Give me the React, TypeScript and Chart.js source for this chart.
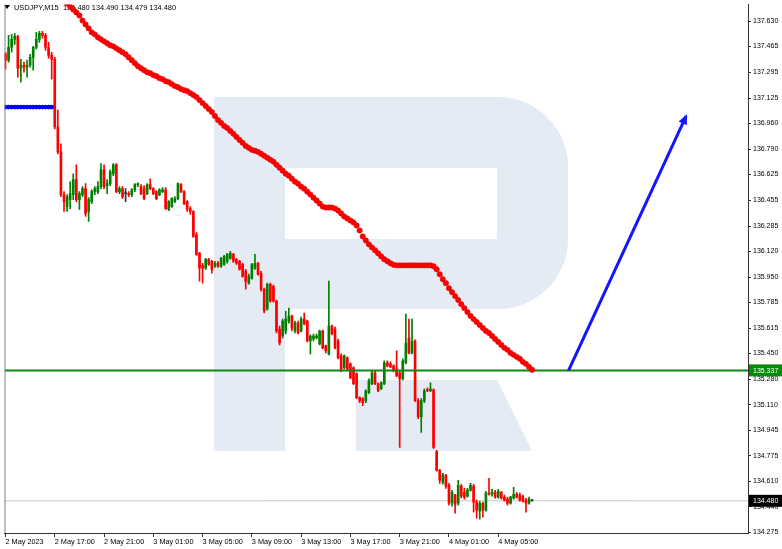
import React, { useEffect, useRef } from 'react';
import { Chart, registerables } from 'chart.js';

Chart.register(...registerables);

const symbolName = 'USDJPY';
const timeframe = 'M15';

const xTickBars = [0, 16, 32, 48, 64, 80, 96, 112, 128, 144, 160];
const xTickLabels = [
  '2 May 2023', '2 May 17:00', '2 May 21:00', '3 May 01:00', '3 May 05:00', '3 May 09:00',
  '3 May 13:00', '3 May 17:00', '3 May 21:00', '4 May 01:00', '4 May 05:00',
];
const yTickValues = [
  137.63, 137.465, 137.295, 137.125, 136.96, 136.79, 136.625, 136.455, 136.285, 136.12, 135.95,
  135.785, 135.615, 135.45, 135.28, 135.11, 134.945, 134.775, 134.61, 134.44, 134.275,
];
const xAxisMin = -0.324;
const xAxisMax = 241.1;
const yAxisMin = 134.2685;
const yAxisMax = 137.741;

const opens = [
  137.414, 137.375, 137.46, 137.512, 137.532, 137.322, 137.342, 137.329, 137.342, 137.394,
  137.46, 137.512, 137.551, 137.538, 137.46, 137.407, 137.381, 136.937, 136.773, 136.492,
  136.413, 136.459, 136.492, 136.59, 136.459, 136.492, 136.531, 136.381, 136.446, 136.511,
  136.511, 136.544, 136.655, 136.551, 136.564, 136.629, 136.688, 136.511, 136.531, 136.498,
  136.498, 136.492, 136.524, 136.557, 136.544, 136.531, 136.498, 136.557, 136.531, 136.511,
  136.492, 136.511, 136.524, 136.394, 136.413, 136.446, 136.466, 136.557, 136.511, 136.446,
  136.4, 136.381, 136.23, 136.106, 136.027, 136.008, 136.067, 136.054, 136.021, 136.041,
  136.021, 136.034, 136.054, 136.073, 136.099, 136.067, 136.054, 136.034, 135.988, 135.91,
  135.942, 136.008, 136.041, 135.975, 135.87, 135.74, 135.903, 135.89, 135.792, 135.609,
  135.563, 135.596, 135.661, 135.694, 135.596, 135.648, 135.596, 135.674, 135.661, 135.53,
  135.543, 135.55, 135.511, 135.596, 135.498, 135.445, 135.628, 135.609, 135.53, 135.432,
  135.354, 135.419, 135.38, 135.354, 135.315, 135.158, 135.151, 135.138, 135.19, 135.249,
  135.321, 135.249, 135.216, 135.249, 135.387, 135.38, 135.367, 135.347, 135.321, 135.282,
  135.387, 135.55, 135.452, 135.53, 135.138, 135.033, 135.138, 135.21, 135.203, 135.21,
  134.804, 134.68, 134.602, 134.647, 134.582, 134.464, 134.517, 134.464, 134.576, 134.536,
  134.51, 134.549, 134.576, 134.471, 134.412, 134.464, 134.419, 134.53, 134.523, 134.536,
  134.504, 134.536, 134.504, 134.491, 134.464, 134.497, 134.523, 134.517, 134.51, 134.484,
  134.464, 134.48,
];
const highs = [
  137.427, 137.538, 137.545, 137.551, 137.538, 137.381, 137.362, 137.375, 137.414, 137.466,
  137.558, 137.564, 137.564, 137.551, 137.492, 137.427, 137.394, 137.048, 136.825, 136.511,
  136.492, 136.577, 136.629, 136.688, 136.511, 136.544, 136.564, 136.472, 136.524, 136.544,
  136.577, 136.695, 136.688, 136.59, 136.655, 136.695, 136.695, 136.544, 136.544, 136.531,
  136.511, 136.531, 136.564, 136.57, 136.557, 136.551, 136.564, 136.596, 136.538, 136.518,
  136.531, 136.538, 136.538, 136.453, 136.472, 136.479, 136.57, 136.564, 136.518, 136.453,
  136.413, 136.387, 136.243, 136.112, 136.041, 136.073, 136.073, 136.06, 136.054, 136.054,
  136.08, 136.093, 136.106, 136.119, 136.106, 136.073, 136.06, 136.041, 136.001, 135.969,
  136.041, 136.099, 136.047, 135.988, 135.877, 135.91, 135.91, 135.897, 135.799, 135.628,
  135.674, 135.727, 135.746, 135.7, 135.661, 135.661, 135.687, 135.714, 135.668, 135.57,
  135.576, 135.576, 135.602, 135.602, 135.504, 135.923, 135.635, 135.622, 135.543, 135.445,
  135.439, 135.426, 135.387, 135.36, 135.321, 135.164, 135.158, 135.21, 135.282, 135.334,
  135.334, 135.256, 135.262, 135.4, 135.4, 135.393, 135.373, 135.465, 135.334, 135.413,
  135.707, 135.674, 135.674, 135.537, 135.151, 135.151, 135.216, 135.223, 135.256, 135.216,
  134.811, 134.687, 134.661, 134.654, 134.595, 134.549, 134.523, 134.615, 134.589, 134.562,
  134.562, 134.595, 134.589, 134.484, 134.477, 134.471, 134.543, 134.628, 134.556, 134.549,
  134.556, 134.543, 134.517, 134.504, 134.51, 134.569, 134.536, 134.53, 134.517, 134.497,
  134.504, 134.49,
];
const lows = [
  137.316, 137.362, 137.427, 137.479, 137.263, 137.231, 137.296, 137.263, 137.329, 137.309,
  137.447, 137.492, 137.519, 137.44, 137.388, 137.25, 136.923, 136.76, 136.479, 136.381,
  136.381, 136.4, 136.459, 136.446, 136.394, 136.479, 136.348, 136.315, 136.433, 136.492,
  136.498, 136.531, 136.531, 136.498, 136.551, 136.616, 136.505, 136.498, 136.466, 136.446,
  136.479, 136.479, 136.511, 136.544, 136.492, 136.459, 136.492, 136.524, 136.492, 136.459,
  136.485, 136.505, 136.394, 136.387, 136.407, 136.439, 136.459, 136.505, 136.426, 136.381,
  136.361, 136.211, 136.093, 135.923, 135.91, 136.001, 136.027, 135.975, 136.014, 136.014,
  136.014, 136.027, 136.041, 136.067, 136.047, 136.034, 135.995, 135.949, 135.87, 135.903,
  135.936, 136.001, 135.962, 135.857, 135.714, 135.733, 135.785, 135.785, 135.583, 135.504,
  135.55, 135.576, 135.648, 135.596, 135.583, 135.576, 135.589, 135.635, 135.524, 135.445,
  135.53, 135.543, 135.504, 135.478, 135.452, 135.439, 135.57, 135.478, 135.413, 135.328,
  135.347, 135.341, 135.282, 135.243, 135.151, 135.125, 135.105, 135.125, 135.184, 135.243,
  135.243, 135.197, 135.21, 135.243, 135.36, 135.354, 135.328, 135.295, 134.831, 135.275,
  135.38, 135.445, 135.445, 135.131, 135.02, 134.929, 135.125, 135.197, 135.197, 134.824,
  134.674, 134.595, 134.589, 134.562, 134.451, 134.445, 134.399, 134.451, 134.497, 134.491,
  134.504, 134.543, 134.406, 134.366, 134.36, 134.373, 134.412, 134.517, 134.51, 134.497,
  134.497, 134.491, 134.477, 134.451, 134.458, 134.491, 134.497, 134.477, 134.471, 134.406,
  134.458, 134.479,
];
const closes = [
  137.375, 137.46, 137.512, 137.532, 137.322, 137.342, 137.329, 137.342, 137.394, 137.46,
  137.512, 137.551, 137.538, 137.46, 137.407, 137.381, 136.937, 136.773, 136.492, 136.446,
  136.479, 136.498, 136.59, 136.459, 136.498, 136.531, 136.368, 136.459, 136.511, 136.531,
  136.544, 136.655, 136.544, 136.564, 136.642, 136.688, 136.511, 136.531, 136.479, 136.498,
  136.492, 136.524, 136.557, 136.564, 136.498, 136.466, 136.557, 136.531, 136.498, 136.466,
  136.524, 136.524, 136.4, 136.446, 136.466, 136.466, 136.564, 136.511, 136.433, 136.394,
  136.381, 136.217, 136.099, 136.008, 136.008, 136.067, 136.034, 136.001, 136.041, 136.021,
  136.073, 136.086, 136.099, 136.106, 136.054, 136.041, 136.001, 135.955, 135.923, 135.955,
  136.034, 136.041, 135.969, 135.87, 135.727, 135.903, 135.792, 135.792, 135.596, 135.517,
  135.661, 135.674, 135.694, 135.615, 135.648, 135.583, 135.674, 135.642, 135.53, 135.563,
  135.563, 135.563, 135.596, 135.485, 135.465, 135.628, 135.576, 135.485, 135.419, 135.334,
  135.432, 135.347, 135.288, 135.249, 135.158, 135.138, 135.125, 135.203, 135.269, 135.321,
  135.249, 135.203, 135.256, 135.387, 135.367, 135.36, 135.334, 135.301, 135.282, 135.4,
  135.517, 135.452, 135.53, 135.138, 135.033, 135.138, 135.203, 135.203, 135.216, 134.831,
  134.68, 134.615, 134.647, 134.576, 134.464, 134.536, 134.458, 134.582, 134.51, 134.504,
  134.549, 134.582, 134.471, 134.419, 134.464, 134.419, 134.53, 134.523, 134.536, 134.504,
  134.543, 134.497, 134.484, 134.464, 134.504, 134.523, 134.504, 134.484, 134.477, 134.464,
  134.491, 134.48,
];

// moving average, first value belongs to bar maStart
const maStart = 20;
const maValues = [
  137.747, 137.728, 137.708, 137.689, 137.669, 137.636, 137.61, 137.584, 137.558, 137.545,
  137.525, 137.512, 137.499, 137.486, 137.473, 137.466, 137.453, 137.44, 137.427, 137.414,
  137.394, 137.375, 137.355, 137.335, 137.322, 137.309, 137.296, 137.29, 137.277, 137.27,
  137.257, 137.25, 137.237, 137.231, 137.218, 137.205, 137.198, 137.185, 137.178, 137.172,
  137.159, 137.146, 137.133, 137.113, 137.093, 137.074, 137.054, 137.035, 137.008, 136.982,
  136.963, 136.943, 136.93, 136.91, 136.891, 136.871, 136.851, 136.832, 136.812, 136.799,
  136.786, 136.78, 136.773, 136.76, 136.747, 136.734, 136.721, 136.708, 136.688, 136.668,
  136.649, 136.629, 136.616, 136.596, 136.577, 136.564, 136.544, 136.531, 136.511, 136.492,
  136.472, 136.453, 136.433, 136.413, 136.407, 136.407, 136.407, 136.4, 136.387, 136.368,
  136.348, 136.335, 136.322, 136.309, 136.289, 136.256, 136.217, 136.191, 136.165, 136.145,
  136.126, 136.106, 136.086, 136.067, 136.054, 136.041, 136.031, 136.027, 136.027, 136.027,
  136.027, 136.027, 136.027, 136.027, 136.027, 136.027, 136.027, 136.027, 136.027, 136.021,
  136.001, 135.969, 135.936, 135.91, 135.877, 135.851, 135.825, 135.799, 135.772, 135.746,
  135.72, 135.694, 135.674, 135.655, 135.635, 135.615, 135.596, 135.583, 135.563, 135.543,
  135.524, 135.504, 135.485, 135.472, 135.452, 135.439, 135.426, 135.413, 135.393, 135.38,
  135.36, 135.341,
];

// blue indicator level, bars 0..15
const blueLevel = [
  137.067, 137.067, 137.067, 137.067, 137.067, 137.067, 137.067, 137.067,
  137.067, 137.067, 137.067, 137.067, 137.067, 137.067, 137.067, 137.067,
];

const supportLevel = 135.337;
const lastPrice = 134.48;
const arrowBars = [182.85, 221.0];
const arrowPrices = [135.337, 137.008];

const FONT = "'Liberation Sans', Arial, sans-serif";
const BULL = '#008000';
const BEAR = '#ff0000';
const DOJI = '#333333';

export default function App() {
  const ref = useRef<HTMLCanvasElement | null>(null);

  useEffect(() => {
    document.body.style.margin = '0';
    const canvas = ref.current;
    if (!canvas) return;
    Chart.defaults.font.family = FONT;

    const bars = closes.map((_, i) => i);
    const colors = bars.map((i) => (closes[i] > opens[i] ? BULL : closes[i] < opens[i] ? BEAR : DOJI));
    const wickData = bars.map((i) => ({ x: i, y: [lows[i], highs[i]] }));
    const bodyData = bars.map((i) => ({ x: i, y: [opens[i], closes[i]] }));
    const maData = maValues.map((v, k) => ({ x: maStart + k, y: v }));
    const blueData = blueLevel.map((v, k) => ({ x: k, y: v }));
    const arrowData = arrowBars.map((b, k) => ({ x: b, y: arrowPrices[k] }));
    const ARROW_INDEX = 6;

    const decor = {
      id: 'decor',
      beforeDatasetsDraw(chart: any) {
        const ctx = chart.ctx as CanvasRenderingContext2D;
        const a = chart.chartArea;
        ctx.save();
        ctx.beginPath();
        ctx.rect(a.left, a.top, a.right - a.left, a.bottom - a.top);
        ctx.clip();
        // watermark "R"
        ctx.fillStyle = '#e5ebf4';
        ctx.fillRect(214, 97, 71, 354);
        ctx.beginPath();
        ctx.moveTo(285, 97);
        ctx.lineTo(498, 97);
        ctx.arcTo(568, 97, 568, 167, 70);
        ctx.lineTo(568, 239);
        ctx.arcTo(568, 309, 498, 309, 70);
        ctx.lineTo(285, 309);
        ctx.lineTo(285, 239);
        ctx.lineTo(497, 239);
        ctx.lineTo(497, 168);
        ctx.lineTo(285, 168);
        ctx.closePath();
        ctx.fill();
        ctx.beginPath();
        ctx.moveTo(356, 380);
        ctx.lineTo(497, 380);
        ctx.lineTo(532, 451);
        ctx.lineTo(356, 451);
        ctx.closePath();
        ctx.fill();
        // header
        ctx.fillStyle = '#000';
        ctx.beginPath();
        ctx.moveTo(4, 5);
        ctx.lineTo(10, 5);
        ctx.lineTo(7, 9);
        ctx.closePath();
        ctx.fill();
        ctx.font = `7.4px ${FONT}`;
        ctx.textBaseline = 'middle';
        ctx.textAlign = 'left';
        const n = closes.length - 1;
        ctx.fillText(`${symbolName},${timeframe}`, 14, 8);
        ctx.fillText(
          `${opens[n].toFixed(3)} ${highs[n].toFixed(3)} ${lows[n].toFixed(3)} ${closes[n].toFixed(3)}`,
          63, 8,
        );
        ctx.restore();
      },
      afterDatasetsDraw(chart: any) {
        const ctx = chart.ctx as CanvasRenderingContext2D;
        const meta = chart.getDatasetMeta(ARROW_INDEX);
        const p0 = meta.data[0];
        const p1 = meta.data[1];
        if (!p0 || !p1) return;
        const ang = Math.atan2(p1.y - p0.y, p1.x - p0.x);
        const dx = Math.cos(ang), dy = Math.sin(ang);
        const tipX = p1.x + dx * 2, tipY = p1.y + dy * 2;
        const bx = tipX - dx * 10, by = tipY - dy * 10;
        ctx.save();
        ctx.fillStyle = '#1414ff';
        ctx.beginPath();
        ctx.moveTo(tipX, tipY);
        ctx.lineTo(bx - dy * 4.5, by + dx * 4.5);
        ctx.lineTo(bx + dy * 4.5, by - dx * 4.5);
        ctx.closePath();
        ctx.fill();
        ctx.restore();
      },
      afterDraw(chart: any) {
        const ctx = chart.ctx as CanvasRenderingContext2D;
        const a = chart.chartArea;
        const ys = chart.scales.y;
        ctx.save();
        ctx.strokeStyle = '#808080';
        ctx.lineWidth = 1;
        ctx.beginPath();
        ctx.moveTo(a.left + 0.5, a.top);
        ctx.lineTo(a.left + 0.5, a.bottom);
        ctx.stroke();
        const tag = (v: number, bg: string) => {
          const py = ys.getPixelForValue(v);
          ctx.fillStyle = bg;
          ctx.fillRect(a.right + 1, py - 6, chart.width - a.right - 1, 12);
          ctx.fillStyle = '#fff';
          ctx.font = `7px ${FONT}`;
          ctx.textBaseline = 'middle';
          ctx.textAlign = 'left';
          ctx.fillText(v.toFixed(3), a.right + 5, py + 0.5);
        };
        tag(supportLevel, '#0a8a0a');
        tag(lastPrice, '#000000');
        ctx.restore();
      },
    };

    const chart = new Chart(canvas, {
      type: 'bar',
      data: {
        datasets: [
          {
            type: 'line', label: 'last', data: [{ x: xAxisMin, y: lastPrice }, { x: xAxisMax, y: lastPrice }],
            borderColor: '#c8c8c8', borderWidth: 1, pointRadius: 0, order: 9,
          },
          {
            type: 'bar', label: 'wicks', data: wickData as any, backgroundColor: colors,
            barThickness: 1, grouped: false, order: 8,
          },
          {
            type: 'bar', label: 'bodies', data: bodyData as any, backgroundColor: colors,
            barThickness: 2, grouped: false, minBarLength: 1, order: 7,
          },
          {
            type: 'line', label: 'level', data: blueData, showLine: false, pointRadius: 2.3,
            pointBackgroundColor: '#0000ff', pointBorderWidth: 0, order: 6,
          },
          {
            type: 'line', label: 'support', data: [{ x: xAxisMin, y: supportLevel }, { x: xAxisMax, y: supportLevel }],
            borderColor: '#118811', borderWidth: 2, pointRadius: 0, order: 5,
          },
          {
            type: 'line', label: 'ma', data: maData, showLine: false, pointRadius: 2.7,
            pointBackgroundColor: '#ff0000', pointBorderColor: '#dd0000', pointBorderWidth: 0.5, order: 4,
          },
          {
            type: 'line', label: 'arrow', data: arrowData, borderColor: '#1414ff', borderWidth: 3,
            pointRadius: 0, order: 3,
          },
        ] as any,
      },
      options: {
        responsive: false,
        maintainAspectRatio: false,
        animation: false,
        events: [],
        layout: { padding: { top: 2, left: 2, right: 0, bottom: 0 } },
        plugins: { legend: { display: false }, tooltip: { enabled: false }, title: { display: false } },
        scales: {
          x: {
            type: 'linear', min: xAxisMin, max: xAxisMax, offset: false,
            grid: { drawOnChartArea: false, drawTicks: true, tickLength: 4, color: '#333', offset: false },
            border: { display: true, color: '#333', width: 1 },
            ticks: {
              autoSkip: false, maxRotation: 0, minRotation: 0, align: 'start', padding: 1, color: '#000',
              font: { family: FONT, size: 7.3 },
              callback: (v: any) => {
                const k = xTickBars.indexOf(Number(v));
                return k >= 0 ? xTickLabels[k] : '';
              },
            },
            afterBuildTicks: (s: any) => { s.ticks = xTickBars.map((v) => ({ value: v })); },
            afterFit: (s: any) => { s.height = 16; s.paddingLeft = 0; s.paddingRight = 0; },
          },
          y: {
            type: 'linear', position: 'right', min: yAxisMin, max: yAxisMax,
            grid: { drawOnChartArea: false, drawTicks: true, tickLength: 3, color: '#333' },
            border: { display: true, color: '#333', width: 1 },
            ticks: {
              autoSkip: false, padding: 2, color: '#000', font: { family: FONT, size: 7 },
              callback: (v: any) => Number(v).toFixed(3),
            },
            afterBuildTicks: (s: any) => { s.ticks = yTickValues.map((v) => ({ value: v })); },
            afterFit: (s: any) => { s.width = 34; s.paddingTop = 0; s.paddingBottom = 0; },
          },
        },
      } as any,
      plugins: [decor],
    });

    return () => chart.destroy();
  }, []);

  return <canvas ref={ref} width={782} height={549} style={{ display: 'block' }} />;
}
